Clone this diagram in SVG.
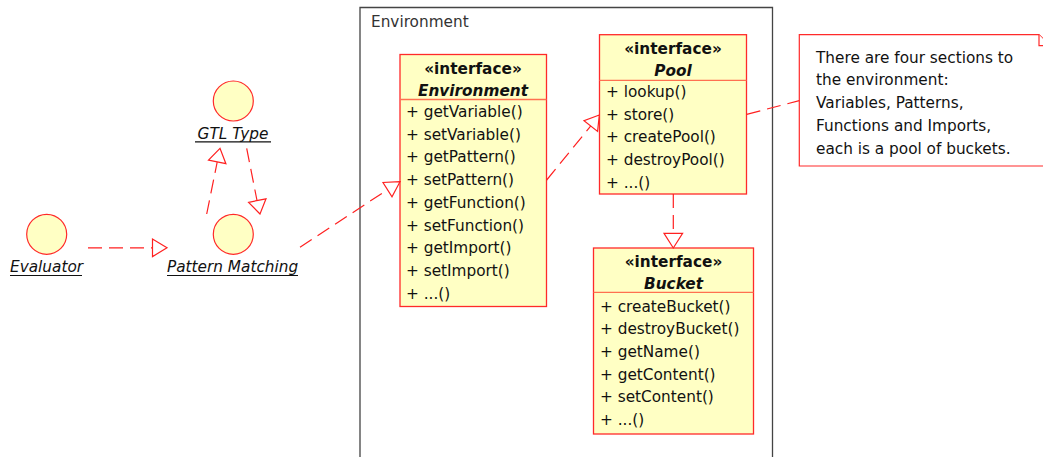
<svg xmlns="http://www.w3.org/2000/svg" width="1043" height="457" viewBox="0 0 1043 457">
  <style>
    text { font-family: "DejaVu Sans", "Liberation Sans", sans-serif; font-size: 15.3px; fill: #111; }
    .stereo { font-weight: bold; text-anchor: middle; }
    .cname { font-weight: bold; font-style: italic; text-anchor: middle; }
    .lbl { font-style: italic; }
    .box { fill: #ffffc4; stroke: #ff2a2a; stroke-width: 1.3; }
    .div { stroke: #ff7050; stroke-width: 1.3; }
    .circ { fill: #ffffc4; stroke: #ff2a2a; stroke-width: 1.2; }
    .ul { stroke: #111; stroke-width: 1.2; }
    .dep { fill: none; stroke: #ff2020; stroke-width: 1.2; stroke-dasharray: 14 7; }
    .head { fill: #fff; stroke: #ff2020; stroke-width: 1.2; }
    .frame { fill: none; stroke: #444; stroke-width: 1.3; }
    .note { fill: #fff; stroke: #ff2a2a; stroke-width: 1.2; }
  </style>

  <!-- package frame -->
  <g id="environment-package">
    <path class="frame" d="M360,470 V7.5 H772.5 V470"/>
    <text x="371" y="27" style="fill:#333">Environment</text>
  </g>

  <!-- robustness objects -->
  <g id="evaluator">
    <circle class="circ" cx="46.7" cy="234.3" r="20"/>
    <text class="lbl" x="10" y="272">Evaluator</text>
    <line class="ul" x1="10" y1="275.5" x2="82" y2="275.5"/>
  </g>
  <g id="gtl-type">
    <circle class="circ" cx="233.3" cy="101" r="20"/>
    <text class="lbl" x="233" y="139" text-anchor="middle">GTL Type</text>
    <line class="ul" x1="195" y1="141.8" x2="271" y2="141.8"/>
  </g>
  <g id="pattern-matching">
    <circle class="circ" cx="233.3" cy="234.3" r="20"/>
    <text class="lbl" x="167" y="272">Pattern Matching</text>
    <line class="ul" x1="167" y1="275.5" x2="298" y2="275.5"/>
  </g>

  <!-- interface Environment -->
  <g id="iface-environment">
    <rect class="box" x="400" y="54.5" width="146.5" height="252"/>
    <line class="div" x1="400" y1="99.5" x2="546.5" y2="99.5"/>
    <text class="stereo" x="473" y="73.5">«interface»</text>
    <text class="cname" x="473" y="95.5">Environment</text>
    <text x="406" y="117">+ getVariable()</text>
    <text x="406" y="139.7">+ setVariable()</text>
    <text x="406" y="162.4">+ getPattern()</text>
    <text x="406" y="185.1">+ setPattern()</text>
    <text x="406" y="207.8">+ getFunction()</text>
    <text x="406" y="230.5">+ setFunction()</text>
    <text x="406" y="253.2">+ getImport()</text>
    <text x="406" y="275.9">+ setImport()</text>
    <text x="406" y="298.6">+ ...()</text>
  </g>

  <!-- interface Pool -->
  <g id="iface-pool">
    <rect class="box" x="599.5" y="34.7" width="147" height="159.3"/>
    <line class="div" x1="599.5" y1="80.3" x2="746.5" y2="80.3"/>
    <text class="stereo" x="673" y="54">«interface»</text>
    <text class="cname" x="673" y="75.5">Pool</text>
    <text x="606" y="97">+ lookup()</text>
    <text x="606" y="119.7">+ store()</text>
    <text x="606" y="142.4">+ createPool()</text>
    <text x="606" y="165.1">+ destroyPool()</text>
    <text x="606" y="187.8">+ ...()</text>
  </g>

  <!-- interface Bucket -->
  <g id="iface-bucket">
    <rect class="box" x="593.5" y="248" width="160" height="186"/>
    <line class="div" x1="593.5" y1="292.3" x2="753.5" y2="292.3"/>
    <text class="stereo" x="673.5" y="267">«interface»</text>
    <text class="cname" x="673.5" y="288.5">Bucket</text>
    <text x="600" y="311.5">+ createBucket()</text>
    <text x="600" y="334.2">+ destroyBucket()</text>
    <text x="600" y="356.9">+ getName()</text>
    <text x="600" y="379.6">+ getContent()</text>
    <text x="600" y="402.3">+ setContent()</text>
    <text x="600" y="425">+ ...()</text>
  </g>

  <!-- note -->
  <g id="note">
    <path class="note" d="M799.3,34.7 H1039 L1050,45.7 V166 H799.3 Z"/>
    <path class="note" d="M1039,34.7 V45.7 H1050"/>
    <text x="816" y="62.7">There are four sections to</text>
    <text x="816" y="85.4">the environment:</text>
    <text x="816" y="108.1">Variables, Patterns,</text>
    <text x="816" y="130.8">Functions and Imports,</text>
    <text x="816" y="153.5">each is a pool of buckets.</text>
  </g>

  <!-- dependency connectors -->
  <g id="connectors">
    <!-- Evaluator -> Pattern Matching -->
    <line class="dep" x1="88" y1="247.8" x2="152.5" y2="247.8"/>
    <polygon class="head" points="167,247.8 152.5,239 152.5,256.6"/>
    <!-- Pattern Matching -> GTL Type -->
    <line class="dep" x1="206.7" y1="214" x2="217.2" y2="162"/>
    <polygon class="head" points="220,148.3 208.5,160.2 225.9,163.7"/>
    <!-- GTL Type -> Pattern Matching -->
    <line class="dep" x1="246.7" y1="148.3" x2="257" y2="200.5"/>
    <polygon class="head" points="260,214 248.6,202.3 266,198.8"/>
    <!-- Pattern Matching -> Environment -->
    <line class="dep" x1="300" y1="247.3" x2="387.5" y2="189.7"/>
    <polygon class="head" points="400,181.7 383,182.5 392,196.7"/>
    <!-- Environment -> Pool -->
    <line class="dep" x1="546.7" y1="180" x2="591" y2="125.7"/>
    <polygon class="head" points="599.3,115 584,120.6 597.6,131.4"/>
    <!-- Pool -> Bucket -->
    <line class="dep" x1="673.3" y1="194" x2="673.3" y2="233.3"/>
    <polygon class="head" points="673.3,248 664,233.3 682.6,233.3"/>
    <!-- note anchor -->
    <line class="dep" x1="746.7" y1="114.3" x2="799.3" y2="100.7"/>
  </g>
</svg>
